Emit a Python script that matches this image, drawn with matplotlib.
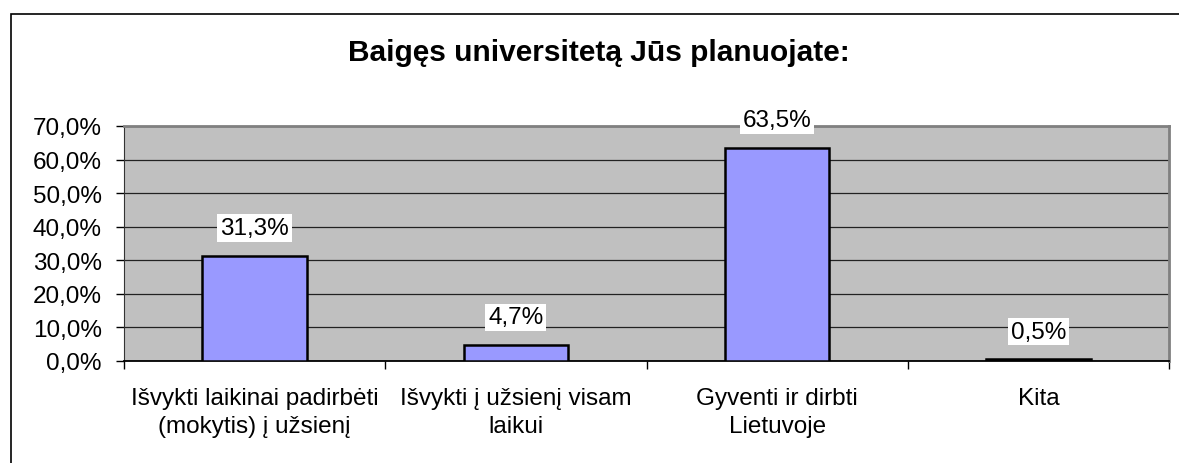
import matplotlib.pyplot as plt
from matplotlib.patches import Rectangle
from matplotlib.ticker import FixedLocator
import numpy as np

plt.rcParams['font.family'] = ['Liberation Sans', 'DejaVu Sans']

categories = ['Išvykti laikinai padirbėti\n(mokytis) į užsienį',
              'Išvykti į užsienį visam\nlaikui',
              'Gyventi ir dirbti\nLietuvoje',
              'Kita']
values = [31.3, 4.7, 63.5, 0.5]
value_labels = ['31,3%', '4,7%', '63,5%', '0,5%']
yticks = [0, 10, 20, 30, 40, 50, 60, 70]
ytick_labels = ['0,0%', '10,0%', '20,0%', '30,0%', '40,0%', '50,0%', '60,0%', '70,0%']

fig = plt.figure(figsize=(11.79, 4.64), dpi=100)
ax = fig.add_axes([124/1179, 102/464, 1045/1179, 235/464])

# outer chart frame (cropped on right/bottom like the original)
fig.patches.append(Rectangle((11/1179, -0.1), 1.2, 1.1 - 15/464,
                             transform=fig.transFigure, fill=False,
                             edgecolor='black', linewidth=1.2, clip_on=False))

x = np.arange(len(categories))
ax.set_facecolor('#C0C0C0')
ax.bar(x, values, width=0.4, color='#9999FF', edgecolor='black', linewidth=1.8, zorder=3)

for xi, v, lab in zip(x, values, value_labels):
    ax.annotate(lab, (xi, v), xytext=(0, 20), textcoords='offset points',
                ha='center', va='center', fontsize=17.5,
                bbox=dict(boxstyle='square,pad=0.12', facecolor='white', edgecolor='none'),
                zorder=4)

ax.set_xlim(-0.5, len(categories) - 0.5)
ax.set_ylim(0, 70)
ax.set_yticks(yticks)
ax.set_yticklabels(ytick_labels, fontsize=17.5)
ax.yaxis.grid(True, color='#222222', linewidth=0.9)
ax.set_axisbelow(True)

ax.set_xticks(x)
ax.set_xticklabels(categories, fontsize=17.5, linespacing=1.35)
ax.xaxis.set_minor_locator(FixedLocator(np.arange(-0.5, len(categories), 1.0)))
ax.tick_params(axis='x', which='major', length=0, pad=19)
ax.tick_params(axis='x', which='minor', length=6, width=1, direction='out')
ax.tick_params(axis='y', length=6, width=1, pad=10)

for s in ['top', 'right']:
    ax.spines[s].set_color('#808080')
    ax.spines[s].set_linewidth(2)
ax.spines['left'].set_color('#333333')
ax.spines['bottom'].set_color('black')
ax.spines['bottom'].set_linewidth(1.3)

fig.text(599/1179, 1 - 53/464, 'Baigęs universitetą Jūs planuojate:',
         ha='center', va='center', fontsize=21.5, fontweight='bold')

fig.savefig('out.png', dpi=100)
